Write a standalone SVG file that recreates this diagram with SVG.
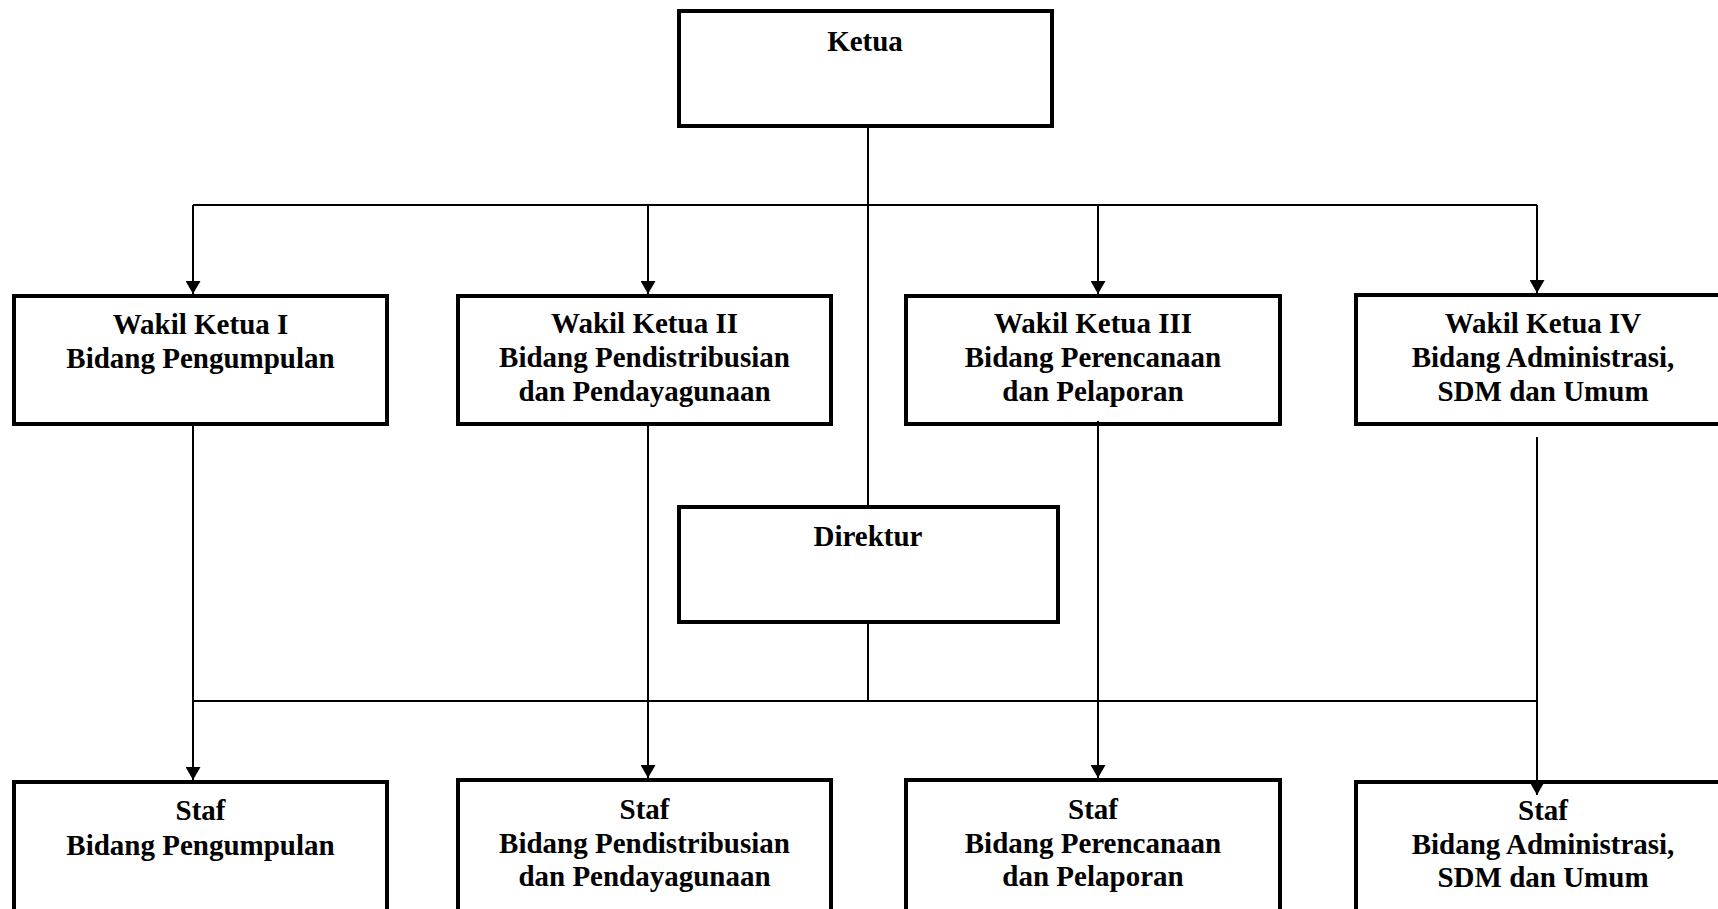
<svg xmlns="http://www.w3.org/2000/svg" width="1718" height="909" viewBox="0 0 1718 909">
<style>
.box{fill:#fff;stroke:#000;stroke-width:4}
.lbl{font-family:"Liberation Serif","Times New Roman",serif;font-weight:bold;font-size:29px;fill:#000;text-anchor:middle}
.ln{fill:none;stroke:#000;stroke-width:2}
</style>
<defs>
<marker id="arr" viewBox="0 0 13 15" refX="13" refY="7.5" markerWidth="13" markerHeight="15" markerUnits="userSpaceOnUse" orient="auto">
<path d="M0,0 L13,7.5 L0,15 z" fill="#000"/>
</marker>
</defs>
<rect x="0" y="0" width="1718" height="909" fill="#fff"/>
<g id="ketua"><rect class="box" x="679" y="11" width="373" height="115"/><text class="lbl" x="865" y="51">Ketua</text></g>
<g id="wakil1"><rect class="box" x="14" y="296" width="373" height="128"/><text class="lbl" x="200.5" y="334">Wakil Ketua I</text><text class="lbl" x="200.5" y="368">Bidang Pengumpulan</text></g>
<g id="wakil2"><rect class="box" x="458" y="296" width="373" height="128"/><text class="lbl" x="644.5" y="333">Wakil Ketua II</text><text class="lbl" x="644.5" y="367">Bidang Pendistribusian</text><text class="lbl" x="644.5" y="401">dan Pendayagunaan</text></g>
<g id="wakil3"><rect class="box" x="906" y="296" width="374" height="128"/><text class="lbl" x="1093" y="333">Wakil Ketua III</text><text class="lbl" x="1093" y="367">Bidang Perencanaan</text><text class="lbl" x="1093" y="401">dan Pelaporan</text></g>
<g id="wakil4"><rect class="box" x="1356" y="295" width="374" height="129"/><text class="lbl" x="1543" y="333">Wakil Ketua IV</text><text class="lbl" x="1543" y="367">Bidang Administrasi,</text><text class="lbl" x="1543" y="401">SDM dan Umum</text></g>
<g id="direktur"><rect class="box" x="679" y="507" width="379" height="115"/><text class="lbl" x="868" y="546">Direktur</text></g>
<g id="staf1"><rect class="box" x="14" y="782" width="373" height="140"/><text class="lbl" x="200.5" y="820">Staf</text><text class="lbl" x="200.5" y="855">Bidang Pengumpulan</text></g>
<g id="staf2"><rect class="box" x="458" y="780" width="373" height="140"/><text class="lbl" x="644.5" y="819">Staf</text><text class="lbl" x="644.5" y="853">Bidang Pendistribusian</text><text class="lbl" x="644.5" y="886">dan Pendayagunaan</text></g>
<g id="staf3"><rect class="box" x="906" y="780" width="374" height="140"/><text class="lbl" x="1093" y="819">Staf</text><text class="lbl" x="1093" y="853">Bidang Perencanaan</text><text class="lbl" x="1093" y="886">dan Pelaporan</text></g>
<g id="staf4"><rect class="box" x="1356" y="782" width="374" height="140"/><text class="lbl" x="1543" y="820">Staf</text><text class="lbl" x="1543" y="854">Bidang Administrasi,</text><text class="lbl" x="1543" y="887">SDM dan Umum</text></g>
<g id="connectors">
<line class="ln" x1="868" y1="128" x2="868" y2="505"/>
<line class="ln" x1="193" y1="205" x2="1537" y2="205"/>
<line class="ln" x1="193" y1="205" x2="193" y2="294" marker-end="url(#arr)"/>
<line class="ln" x1="648" y1="205" x2="648" y2="294" marker-end="url(#arr)"/>
<line class="ln" x1="1098" y1="205" x2="1098" y2="294" marker-end="url(#arr)"/>
<line class="ln" x1="1537" y1="205" x2="1537" y2="293" marker-end="url(#arr)"/>
<line class="ln" x1="868" y1="624" x2="868" y2="701"/>
<line class="ln" x1="193" y1="701" x2="1537" y2="701"/>
<line class="ln" x1="193" y1="426" x2="193" y2="780" marker-end="url(#arr)"/>
<line class="ln" x1="648" y1="426" x2="648" y2="778" marker-end="url(#arr)"/>
<line class="ln" x1="1098" y1="421" x2="1098" y2="778" marker-end="url(#arr)"/>
<line class="ln" x1="1537" y1="437" x2="1537" y2="795" marker-end="url(#arr)"/>
</g>
</svg>
